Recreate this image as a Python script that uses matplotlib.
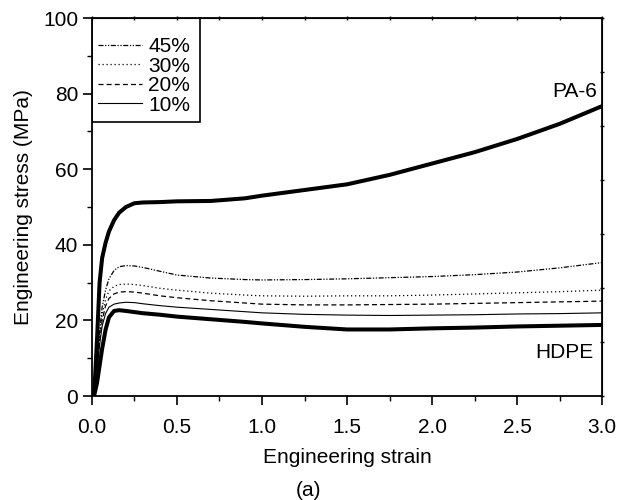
import matplotlib
matplotlib.use("Agg")
import matplotlib.pyplot as plt
from matplotlib.ticker import MultipleLocator, FormatStrFormatter, FixedLocator
from matplotlib.patches import Rectangle

plt.rcParams['font.family'] = ['Liberation Sans', 'DejaVu Sans']

strain = [0.0, 0.015, 0.03, 0.045, 0.06, 0.08, 0.10, 0.13, 0.16, 0.20, 0.25, 0.30, 0.40,
          0.50, 0.70, 0.90, 1.00, 1.25, 1.50, 1.75, 2.00, 2.25, 2.50, 2.75, 3.00]

pa6 = [0.0, 2.0, 15.0, 30.0, 36.5, 40.5, 43.5, 46.5, 48.5, 50.0, 51.0, 51.2, 51.3,
       51.5, 51.6, 52.3, 53.0, 54.5, 56.0, 58.5, 61.5, 64.5, 68.0, 72.0, 76.7]

s45 = [0.0, 1.0, 8.0, 17.0, 23.5, 28.0, 31.0, 33.2, 34.2, 34.5, 34.4, 34.0, 33.0,
       32.0, 31.2, 30.8, 30.7, 30.8, 31.0, 31.3, 31.6, 32.1, 32.8, 33.9, 35.3]

s30 = [0.0, 1.0, 7.5, 15.5, 21.5, 25.5, 27.8, 29.0, 29.5, 29.6, 29.5, 29.2, 28.5,
       28.0, 27.2, 26.7, 26.5, 26.4, 26.5, 26.5, 26.7, 27.0, 27.3, 27.6, 28.0]

s20 = [0.0, 1.0, 7.0, 14.5, 20.0, 23.8, 25.8, 27.0, 27.5, 27.6, 27.5, 27.2, 26.5,
       26.0, 25.2, 24.6, 24.3, 24.1, 24.1, 24.2, 24.3, 24.5, 24.7, 24.9, 25.1]

s10 = [0.0, 1.0, 6.5, 13.5, 18.5, 21.8, 23.5, 24.3, 24.6, 24.8, 24.7, 24.4, 23.9,
       23.5, 22.9, 22.3, 22.0, 21.6, 21.4, 21.3, 21.4, 21.5, 21.7, 21.8, 22.0]

hdpe = [0.0, 0.5, 3.5, 8.0, 12.5, 17.5, 20.8, 22.5, 22.7, 22.5, 22.2, 21.9, 21.5,
        21.0, 20.3, 19.6, 19.2, 18.3, 17.6, 17.6, 17.9, 18.1, 18.4, 18.6, 18.8]

legend_labels = ['45%', '30%', '20%', '10%']

FS = 15

fig = plt.figure(figsize=(6.17, 5.00), dpi=100)
ax = fig.add_axes([0.149, 0.208, 0.827, 0.756])

ax.plot(strain, pa6, color='black', lw=2.9, solid_capstyle='round')
ax.plot(strain, hdpe, color='black', lw=2.9, solid_capstyle='round')
l45, = ax.plot(strain, s45, color='black', lw=0.9, ls=(0, (4, 1.3, 1, 1.3, 1, 1.3)))
l30, = ax.plot(strain, s30, color='black', lw=0.9, ls=(0, (1, 2.2)))
l20, = ax.plot(strain, s20, color='black', lw=0.9, ls=(0, (4, 2.5)))
l10, = ax.plot(strain, s10, color='black', lw=0.8, ls='-')

ax.set_xlim(0, 3.0)
ax.set_ylim(0, 100)
ax.xaxis.set_major_locator(MultipleLocator(0.5))
ax.xaxis.set_minor_locator(MultipleLocator(0.25))
ax.yaxis.set_major_locator(MultipleLocator(20))
ax.yaxis.set_minor_locator(MultipleLocator(10))
ax.xaxis.set_major_formatter(FormatStrFormatter('%.1f'))

ax.tick_params(which='major', direction='out', length=6.5, width=1.2, labelsize=FS,
               top=False, right=False)
ax.tick_params(which='minor', direction='out', length=3.5, width=1.0, top=False, right=False)
ax.tick_params(axis='x', which='major', pad=9)
ax.tick_params(axis='y', which='major', pad=3.5)
for sp in ax.spines.values():
    sp.set_linewidth(1.3)

ax2 = ax.secondary_xaxis('top')
ax2.xaxis.set_major_locator(MultipleLocator(0.25))
ax2.tick_params(direction='inout', length=3, width=1.0, labeltop=False)
ax3 = ax.secondary_yaxis('right')
ax3.yaxis.set_major_locator(FixedLocator([100.0 * k / 7 for k in range(8)]))
ax3.tick_params(direction='inout', length=3, width=1.0, labelright=False)

ax.set_xlabel('Engineering strain', fontsize=FS, labelpad=8.5)
ax.set_ylabel('Engineering stress (MPa)', fontsize=FS, labelpad=7.5)
fig.text(0.5, 0.02, '(a)', ha='center', va='center', fontsize=FS)

ax.text(2.84, 80.5, 'PA-6', ha='center', va='center', fontsize=FS)
ax.text(2.78, 11.4, 'HDPE', ha='center', va='center', fontsize=FS)

box = Rectangle((0.0, 0.725), 0.2118, 0.275, transform=ax.transAxes, fill=False,
                edgecolor='black', lw=1.2, zorder=4)
ax.add_patch(box)
leg = ax.legend([l45, l30, l20, l10], legend_labels, loc='upper left',
                bbox_to_anchor=(0.0, 0.9655), fontsize=FS, frameon=False,
                handlelength=2.1, handletextpad=0.3, labelspacing=0.02,
                borderpad=0.3, borderaxespad=0.0)

fig.savefig('out.png', dpi=100)
